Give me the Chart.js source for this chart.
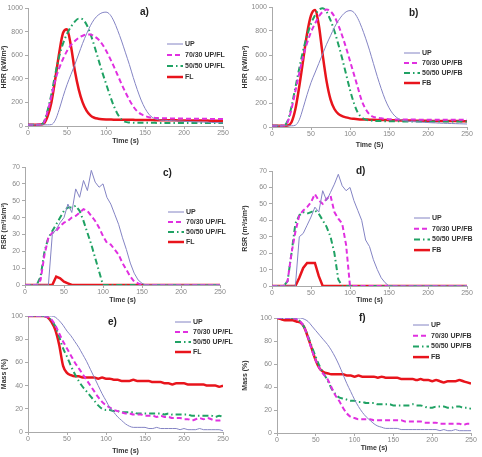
<!DOCTYPE html>
<html>
<head>
<meta charset="utf-8">
<script src="https://cdn.jsdelivr.net/npm/chart.js@4"></script>
<style>
  body { margin: 0; width: 482px; height: 457px; position: relative; overflow: hidden; background: #fff; }
  canvas { position: absolute; background: #fff; }
</style>
</head>
<body>
<canvas id="pa"></canvas>
<canvas id="pb"></canvas>
<canvas id="pc"></canvas>
<canvas id="pd"></canvas>
<canvas id="pe"></canvas>
<canvas id="pf"></canvas>
<script>
// time (s), shared by every panel
const time = [0, 5, 10, 15, 20, 25, 30, 35, 40, 45, 50, 55, 60, 65, 70, 75, 80, 85, 90, 95, 100,
  105, 110, 115, 120, 125, 130, 135, 140, 145, 150, 155, 160, 165, 170, 175, 180, 185, 190, 195, 200,
  205, 210, 215, 220, 225, 230, 235, 240, 245, 250]
const xTicks = [0, 50, 100, 150, 200, 250]

const labelsFL = ['UP', '70/30 UP/FL', '50/50 UP/FL', 'FL']
const labelsFB = ['UP', '70/30 UP/FB', '50/50 UP/FB', 'FB']

// a) HRR, UP/FL
const hrrUpA = [10, 10, 10, 10, 10, 10, 12, 50, 140, 250, 350, 435, 520, 610, 700, 780, 850, 905, 940, 960, 965,
  945, 890, 810, 720, 620, 520, 410, 310, 220, 150, 100, 70, 56, 50, 48, 46, 45, 43, 42, 40,
  38, 37, 35, 34, 33, 32, 30, 29, 28, 26]
const hrr70A = [10, 10, 10, 12, 25, 120, 250, 390, 490, 570, 635, 685, 720, 748, 765, 775, 775, 760, 735, 695, 640,
  575, 505, 430, 355, 285, 220, 165, 125, 100, 85, 75, 70, 68, 66, 65, 65, 64, 64, 63, 63,
  62, 62, 62, 61, 61, 61, 60, 60, 60, 60]
const hrr50A = [10, 10, 10, 12, 30, 130, 270, 440, 590, 700, 780, 840, 885, 910, 905, 860, 780, 680, 570, 460, 360,
  260, 170, 100, 55, 35, 30, 28, 27, 27, 27, 27, 27, 26, 26, 26, 26, 26, 26, 26, 25,
  25, 25, 25, 25, 25, 25, 25, 25, 25, 25]
const hrrFlA = [10, 10, 10, 12, 20, 80, 200, 400, 620, 790, 820, 680, 470, 310, 200, 130, 90, 70, 62, 58, 56,
  55, 54, 54, 53, 53, 52, 52, 51, 51, 50, 50, 50, 49, 49, 49, 48, 48, 48, 47, 47,
  47, 47, 46, 46, 46, 46, 45, 45, 45, 45]

// b) HRR, UP/FB
const hrrUpB = [10, 10, 10, 10, 10, 10, 15, 60, 160, 270, 370, 450, 530, 610, 690, 760, 830, 885, 930, 960, 970,
  955, 905, 830, 740, 640, 530, 420, 320, 230, 160, 110, 78, 60, 52, 48, 45, 43, 41, 39, 37,
  35, 34, 32, 31, 30, 29, 28, 27, 26, 25]
const hrr70B = [10, 10, 10, 12, 40, 150, 300, 450, 590, 700, 790, 860, 920, 960, 980, 965, 920, 850, 760, 660, 550,
  440, 330, 220, 150, 105, 85, 78, 72, 68, 65, 64, 63, 63, 62, 62, 62, 62, 61, 61, 61,
  61, 61, 60, 60, 60, 60, 60, 60, 60, 60]
const hrr50B = [10, 10, 10, 12, 50, 170, 330, 490, 640, 760, 860, 930, 975, 990, 960, 890, 800, 690, 570, 440, 310,
  200, 120, 80, 62, 55, 52, 50, 49, 48, 48, 47, 47, 47, 46, 46, 46, 46, 46, 46, 45,
  45, 45, 45, 45, 45, 45, 45, 45, 45, 45]
const hrrFbB = [10, 10, 10, 10, 12, 40, 150, 340, 560, 780, 930, 975, 850, 600, 380, 230, 150, 110, 90, 80, 72,
  68, 65, 63, 62, 61, 60, 59, 58, 58, 57, 56, 56, 55, 55, 54, 54, 53, 53, 52, 52,
  51, 51, 50, 50, 50, 49, 49, 49, 48, 48]

// c) RSR, UP/FL
const rsrUpC = [0, 0, 0, 0, 0, 0, 0, 30, 33, 37, 40, 48, 43, 57, 52, 62, 56, 68, 61, 58, 60,
  52, 48, 42, 36, 28, 21, 13, 7, 3, 1, 0, 0, 0, 0, 0, 0, 0, 0, 0, 0,
  0, 0, 0, 0, 0, 0, 0, 0, 0, 0]
const rsr70C = [0, 0, 0, 0, 3, 18, 28, 31, 32, 35, 37, 38, 40, 41, 43, 45, 44, 41, 38, 34, 29,
  25, 24, 21, 18, 13, 9, 5, 2, 1, 0, 0, 0, 0, 0, 0, 0, 0, 0, 0, 0,
  0, 0, 0, 0, 0, 0, 0, 0, 0, 0]
const rsr50C = [0, 0, 0, 0, 5, 20, 28, 32, 36, 40, 44, 46, 46, 47, 44, 38, 31, 24, 16, 8, 0,
  0, 0, 0, 0, 0, 0, 0, 0, 0, 0, 0, 0, 0, 0, 0, 0, 0, 0, 0, 0,
  0, 0, 0, 0, 0, 0, 0, 0, 0, 0]
const rsrFlC = [0, 0, 0, 0, 0, 0, 0, 0, 5, 4, 2, 1, 0, 0, 0, 0, 0, 0, 0, 0, 0,
  0, 0, 0, 0, 0, 0, 0, 0, 0, 0, 0, 0, 0, 0, 0, 0, 0, 0, 0, 0,
  0, 0, 0, 0, 0, 0, 0, 0, 0, 0]

// d) RSR, UP/FB
const rsrUpD = [0, 0, 0, 0, 0, 0, 0, 30, 32, 37, 42, 48, 45, 58, 52, 57, 62, 68, 61, 58, 60,
  52, 46, 40, 28, 24, 16, 10, 5, 2, 0, 0, 0, 0, 0, 0, 0, 0, 0, 0, 0,
  0, 0, 0, 0, 0, 0, 0, 0, 0, 0]
const rsr70D = [0, 0, 0, 0, 3, 20, 33, 43, 46, 48, 51, 56, 52, 50, 53, 55, 45, 41, 38, 25, 0,
  0, 0, 0, 0, 0, 0, 0, 0, 0, 0, 0, 0, 0, 0, 0, 0, 0, 0, 0, 0,
  0, 0, 0, 0, 0, 0, 0, 0, 0, 0]
const rsr50D = [0, 0, 0, 0, 3, 20, 38, 43, 45, 44, 45, 46, 44, 40, 36, 30, 20, 4, 0, 0, 0,
  0, 0, 0, 0, 0, 0, 0, 0, 0, 0, 0, 0, 0, 0, 0, 0, 0, 0, 0, 0,
  0, 0, 0, 0, 0, 0, 0, 0, 0, 0]
const rsrFbD = [0, 0, 0, 0, 0, 0, 0, 5, 11, 14, 14, 14, 6, 0, 0, 0, 0, 0, 0, 0, 0,
  0, 0, 0, 0, 0, 0, 0, 0, 0, 0, 0, 0, 0, 0, 0, 0, 0, 0, 0, 0,
  0, 0, 0, 0, 0, 0, 0, 0, 0, 0]

// e) Mass, UP/FL
const massUpE = [100, 100, 100, 100, 100, 100, 100, 99, 96, 92, 87, 83, 78, 73, 67, 61, 54, 47, 40, 33, 27,
  21, 17, 13, 10, 7, 5, 4, 4, 4, 4, 3, 3, 4, 3, 3, 3, 3, 3, 2, 3,
  2, 2, 2, 3, 2, 2, 2, 2, 2, 1]
const mass70E = [100, 100, 100, 100, 100, 99, 97, 92, 85, 78, 72, 66, 60, 55, 50, 45, 40, 35, 30, 26, 23,
  21, 19, 18, 17, 16, 16, 15, 15, 15, 14, 14, 14, 13, 14, 13, 13, 12, 12, 12, 11,
  11, 10, 11, 12, 11, 12, 11, 10, 10, 11]
const mass50E = [100, 100, 100, 100, 100, 99, 96, 91, 82, 72, 65, 57, 50, 44, 39, 35, 31, 27, 23, 20, 19,
  19, 18, 18, 17, 17, 17, 17, 16, 16, 16, 16, 16, 16, 16, 15, 16, 15, 15, 15, 15,
  15, 14, 14, 14, 14, 14, 14, 13, 14, 13]
const massFlE = [100, 100, 100, 100, 100, 99, 95, 88, 75, 57, 51, 49, 48, 48, 47, 47, 47, 47, 46, 47, 46,
  46, 45, 45, 44, 44, 44, 45, 44, 44, 44, 44, 43, 43, 43, 42, 42, 41, 42, 42, 42,
  41, 41, 41, 41, 41, 40, 40, 40, 39, 40]

// f) Mass, UP/FB
const massUpF = [100, 100, 100, 100, 100, 100, 100, 99, 97, 93, 89, 85, 81, 77, 72, 66, 59, 51, 43, 36, 29,
  23, 18, 14, 11, 8, 6, 5, 4, 4, 4, 4, 3, 3, 3, 3, 3, 3, 3, 3, 3,
  3, 2, 3, 2, 2, 3, 2, 2, 2, 2]
const mass70F = [100, 100, 100, 100, 100, 99, 97, 92, 83, 72, 63, 56, 51, 47, 40, 33, 28, 22, 17, 14, 13,
  12, 12, 12, 12, 11, 11, 11, 11, 11, 11, 11, 11, 10, 10, 10, 10, 10, 9, 9, 9,
  9, 8, 8, 8, 8, 8, 8, 7, 8, 8]
const mass50F = [100, 100, 100, 100, 100, 99, 97, 92, 84, 75, 66, 58, 52, 46, 39, 34, 31, 30, 29, 28, 28,
  27, 27, 26, 26, 26, 25, 25, 25, 25, 24, 24, 24, 24, 24, 25, 24, 24, 23, 22, 22,
  23, 23, 23, 22, 22, 23, 23, 22, 22, 21]
const massFbF = [100, 99, 98, 98, 98, 97, 96, 92, 83, 73, 63, 56, 53, 52, 51, 51, 51, 51, 50, 50, 49,
  50, 49, 49, 49, 49, 48, 49, 48, 48, 48, 48, 47, 47, 47, 47, 46, 47, 46, 46, 45,
  46, 45, 44, 45, 45, 45, 46, 45, 44, 43]

const seriesStyle = [
  { borderColor: '#8484c4', borderWidth: 1, borderDash: [] },
  { borderColor: '#e030e0', borderWidth: 2, borderDash: [5, 3] },
  { borderColor: '#20a264', borderWidth: 2, borderDash: [6, 3, 1.5, 3] },
  { borderColor: '#e8141c', borderWidth: 2.5, borderDash: [] },
]

const FONT = '"Liberation Sans", Arial, sans-serif'

const overlay = {
  id: 'overlay',
  afterDraw(chart, args, opts) {
    const ctx = chart.ctx
    ctx.save()
    ctx.fillStyle = '#222'
    ctx.textBaseline = 'middle'
    ctx.font = 'bold 10px ' + FONT
    ctx.fillText(opts.tag, opts.tagX, opts.tagY)
    ctx.font = 'bold 7px ' + FONT
    ctx.fillStyle = '#333'
    chart.data.datasets.forEach((ds, i) => {
      const y = opts.legY + i * opts.legGap
      ctx.strokeStyle = ds.borderColor
      ctx.lineWidth = ds.borderWidth
      ctx.setLineDash(ds.borderDash)
      ctx.beginPath()
      ctx.moveTo(opts.legX, y)
      ctx.lineTo(opts.legX + 16, y)
      ctx.stroke()
      ctx.setLineDash([])
      ctx.fillText(ds.label, opts.legX + 18, y)
    })
    ctx.restore()
  },
}

function makePanel(id, box, area, series, labels, yMax, yStep, yTitle, xTitle, smooth, tag, leg) {
  const canvas = document.getElementById(id)
  canvas.width = box.w
  canvas.height = box.h
  canvas.style.left = box.x + 'px'
  canvas.style.top = box.y + 'px'

  new Chart(canvas, {
    type: 'line',
    data: {
      labels: time,
      datasets: series.map((data, i) => ({
        label: labels[i],
        data: data,
        ...seriesStyle[i],
        pointRadius: 0,
        fill: false,
        cubicInterpolationMode: smooth ? 'monotone' : 'default',
        tension: 0,
      })),
    },
    options: {
      responsive: false,
      animation: false,
      layout: { padding: { top: area.t - box.y, right: box.x + box.w - area.r, left: 0, bottom: 0 } },
      plugins: {
        legend: { display: false },
        tooltip: { enabled: false },
        overlay: { tagX: tag.x, tagY: tag.y, ...leg, tag: tag.text },
      },
      scales: {
        x: {
          type: 'linear',
          min: 0,
          max: 250,
          afterFit: (s) => { s.height = box.y + box.h - area.b },
          afterBuildTicks: (s) => { s.ticks = xTicks.map((v) => ({ value: v })) },
          grid: { drawOnChartArea: false, tickLength: 3, color: '#aaa' },
          border: { color: '#aaa' },
          ticks: { color: '#888', font: { size: 7, family: FONT }, padding: 0, maxRotation: 0, callback: (v) => String(v) },
          title: { display: true, text: xTitle, color: '#333', font: { size: 7, weight: 'bold', family: FONT }, padding: { top: 0, bottom: 1 } },
        },
        y: {
          min: 0,
          max: yMax,
          afterFit: (s) => { s.width = area.l - box.x },
          grid: { drawOnChartArea: false, tickLength: 3, color: '#aaa' },
          border: { color: '#aaa' },
          ticks: { stepSize: yStep, color: '#888', font: { size: 7, family: FONT }, padding: 2, callback: (v) => String(v) },
          title: { display: true, text: yTitle, color: '#333', font: { size: 7, weight: 'bold', family: FONT }, padding: { top: 0, bottom: 2 } },
        },
      },
    },
    plugins: [overlay],
  })
}

makePanel('pa', { x: 0, y: 0, w: 241, h: 146 }, { l: 28, r: 223, t: 8, b: 126 },
  [hrrUpA, hrr70A, hrr50A, hrrFlA], labelsFL, 1000, 200, 'HRR (kW/m²)', 'Time (s)', true,
  { text: 'a)', x: 140, y: 12 }, { legX: 167, legY: 44, legGap: 11 })

makePanel('pb', { x: 241, y: 0, w: 241, h: 150 }, { l: 272, r: 467, t: 7, b: 127 },
  [hrrUpB, hrr70B, hrr50B, hrrFbB], labelsFB, 1000, 200, 'HRR (kW/m²)', 'Time (S)', true,
  { text: 'b)', x: 168, y: 13 }, { legX: 163, legY: 53, legGap: 10 })

makePanel('pc', { x: 0, y: 150, w: 241, h: 155 }, { l: 25, r: 220, t: 167, b: 285 },
  [rsrUpC, rsr70C, rsr50C, rsrFlC], labelsFL, 70, 10, 'RSR (m²/s/m²)', 'Time (s)', false,
  { text: 'c)', x: 163, y: 23 }, { legX: 168, legY: 62, legGap: 10 })

makePanel('pd', { x: 241, y: 150, w: 241, h: 155 }, { l: 272, r: 467, t: 171, b: 286 },
  [rsrUpD, rsr70D, rsr50D, rsrFbD], labelsFB, 70, 10, 'RSR (m²/s/m²)', 'Time (s)', false,
  { text: 'd)', x: 115, y: 21 }, { legX: 173, legY: 68, legGap: 10.7 })

makePanel('pe', { x: 0, y: 305, w: 241, h: 151 }, { l: 28, r: 223, t: 316, b: 432 },
  [massUpE, mass70E, mass50E, massFlE], labelsFL, 100, 20, 'Mass (%)', 'Time (s)', true,
  { text: 'e)', x: 108, y: 17 }, { legX: 175, legY: 17, legGap: 10 })

makePanel('pf', { x: 241, y: 305, w: 241, h: 148 }, { l: 277, r: 471, t: 318, b: 433 },
  [massUpF, mass70F, mass50F, massFbF], labelsFB, 100, 20, 'Mass (%)', 'Time (s)', true,
  { text: 'f)', x: 118, y: 13 }, { legX: 172, legY: 20, legGap: 10.7 })
</script>
</body>
</html>
